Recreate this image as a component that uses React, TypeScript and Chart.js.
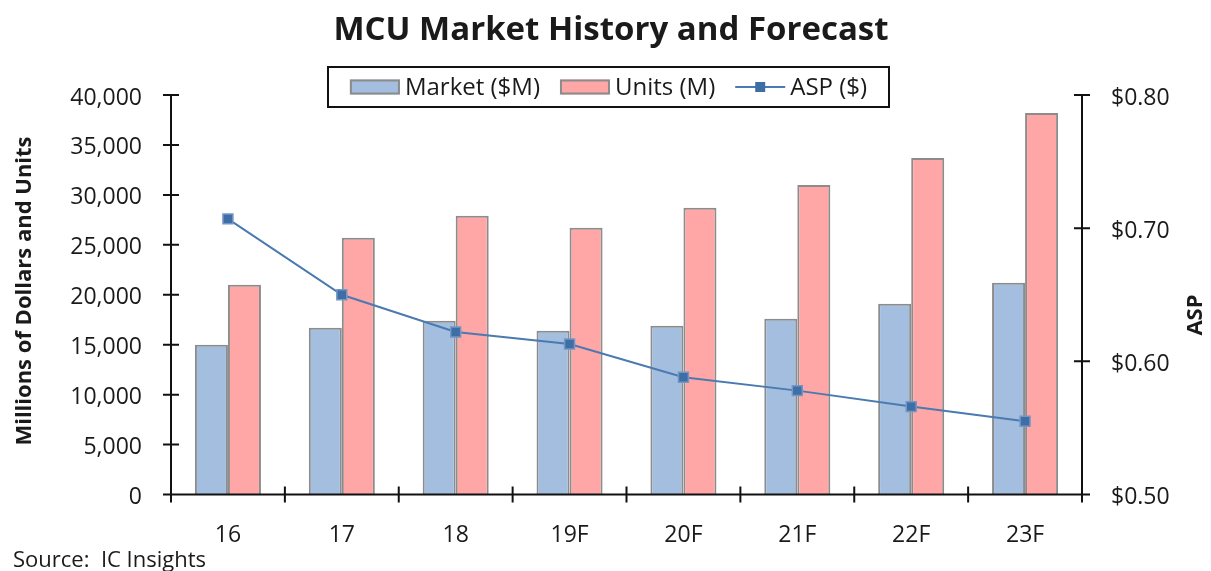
import React, { useEffect, useRef } from "react";
import { Chart, registerables } from "chart.js";

Chart.register(...registerables);

const categories = ["16", "17", "18", "19F", "20F", "21F", "22F", "23F"];
const marketValues = [15000, 16700, 17400, 16400, 16900, 17600, 19100, 21200];
const unitValues = [21000, 25700, 27900, 26700, 28700, 31000, 33700, 38200];
const aspValues = [0.707, 0.65, 0.622, 0.613, 0.588, 0.578, 0.566, 0.555];
const leftTickValues = [0, 5000, 10000, 15000, 20000, 25000, 30000, 35000, 40000];
const rightTickValues = [0.5, 0.6, 0.7, 0.8];

const TITLE = "MCU Market History and Forecast";
const LEFT_TITLE = "Millions of Dollars and Units";
const RIGHT_TITLE = "ASP";
const SOURCE = "Source:  IC Insights";
const LEGEND_LABELS = ["Market ($M)", "Units (M)", "ASP ($)"];

const FONT = "'Open Sans', 'Noto Sans', sans-serif";
const BLUE = "#a3bede";
const PINK = "#ffa6a6";
const BAR_BORDER = "#8c8c8c";
const LINE = "#4a7ab0";
const MARKER = "#3e6ea6";
const TEXT = "#1a1a1a";

const decorPlugin = {
  id: "decor",
  afterDraw(chart: any) {
    const ctx = chart.ctx as CanvasRenderingContext2D;
    const { left, right, top, bottom } = chart.chartArea;
    const yL = chart.scales.y;
    const yR = chart.scales.y2;
    ctx.save();
    ctx.strokeStyle = "#111";
    ctx.lineWidth = 2;
    ctx.beginPath();
    ctx.moveTo(left, top);
    ctx.lineTo(left, bottom);
    ctx.moveTo(right, top);
    ctx.lineTo(right, bottom);
    ctx.moveTo(left, bottom);
    ctx.lineTo(right, bottom);
    const t = 8;
    leftTickValues.forEach((v) => {
      const y = yL.getPixelForValue(v);
      ctx.moveTo(left - t, y);
      ctx.lineTo(left + t, y);
    });
    rightTickValues.forEach((v) => {
      const y = yR.getPixelForValue(v);
      ctx.moveTo(right - t, y);
      ctx.lineTo(right + t, y);
    });
    const n = categories.length;
    for (let i = 0; i <= n; i++) {
      const x = left + ((right - left) * i) / n;
      ctx.moveTo(x, bottom - t);
      ctx.lineTo(x, bottom + t);
    }
    ctx.stroke();

    // title
    ctx.fillStyle = TEXT;
    ctx.textBaseline = "middle";
    ctx.textAlign = "center";
    ctx.font = `bold 33px ${FONT}`;
    ctx.fillText(TITLE, 611, 31);

    // axis titles
    ctx.font = `bold 22px ${FONT}`;
    ctx.save();
    ctx.translate(25, 291);
    ctx.rotate(-Math.PI / 2);
    ctx.fillText(LEFT_TITLE, 0, 0);
    ctx.restore();
    ctx.save();
    ctx.translate(1196, 315);
    ctx.rotate(-Math.PI / 2);
    ctx.fillText(RIGHT_TITLE, 0, 0);
    ctx.restore();

    // source
    ctx.textAlign = "left";
    ctx.font = `22px ${FONT}`;
    ctx.fillText(SOURCE, 13, 561);

    // legend
    ctx.font = `24px ${FONT}`;
    const swW = 50;
    const swH = 15;
    const gapText = 5;
    const gapItem = 20;
    const widths = LEGEND_LABELS.map((l) => ctx.measureText(l).width);
    const total =
      widths.reduce((a, b) => a + b, 0) + LEGEND_LABELS.length * (swW + gapText) + gapItem * (LEGEND_LABELS.length - 1);
    const boxL = 328;
    const boxR = 889;
    const boxT = 67;
    const boxB = 107;
    const cy = (boxT + boxB) / 2;
    let x = (boxL + boxR) / 2 - total / 2;
    ctx.lineWidth = 2;
    ctx.strokeStyle = "#111";
    ctx.strokeRect(boxL, boxT, boxR - boxL, boxB - boxT);
    LEGEND_LABELS.forEach((label, i) => {
      if (i < 2) {
        ctx.fillStyle = i === 0 ? BLUE : PINK;
        ctx.fillRect(x, cy - swH / 2, swW, swH);
        ctx.strokeStyle = BAR_BORDER;
        ctx.lineWidth = 2;
        ctx.strokeRect(x + 1, cy - swH / 2 + 1, swW - 2, swH - 2);
      } else {
        ctx.strokeStyle = LINE;
        ctx.lineWidth = 2;
        ctx.beginPath();
        ctx.moveTo(x, cy);
        ctx.lineTo(x + swW, cy);
        ctx.stroke();
        ctx.fillStyle = MARKER;
        ctx.fillRect(x + swW / 2 - 5, cy - 5, 10, 10);
      }
      ctx.fillStyle = TEXT;
      ctx.fillText(label, x + swW + gapText, cy + 1);
      x += swW + gapText + widths[i] + gapItem;
    });
    ctx.restore();
  },
};

export default function App() {
  const ref = useRef<HTMLCanvasElement>(null);
  useEffect(() => {
    document.body.style.margin = "0";
    const canvas = ref.current!;
    const chart = new Chart(canvas, {
      type: "bar",
      data: {
        labels: categories,
        datasets: [
          {
            type: "line",
            label: LEGEND_LABELS[2],
            data: aspValues,
            yAxisID: "y2",
            borderColor: LINE,
            borderWidth: 2,
            pointStyle: "rect",
            pointRadius: 7,
            pointBackgroundColor: MARKER,
            pointBorderColor: "#7396c4",
            pointBorderWidth: 1.5,
            tension: 0,
            order: -1,
          } as any,
          {
            label: LEGEND_LABELS[0],
            data: marketValues,
            yAxisID: "y",
            backgroundColor: BLUE,
            borderColor: BAR_BORDER,
            borderWidth: 2,
            categoryPercentage: 0.58,
            barPercentage: 1,
            order: 1,
          },
          {
            label: LEGEND_LABELS[1],
            data: unitValues,
            yAxisID: "y",
            backgroundColor: PINK,
            borderColor: BAR_BORDER,
            borderWidth: 2,
            categoryPercentage: 0.58,
            barPercentage: 1,
            order: 1,
          },
        ],
      },
      options: {
        responsive: false,
        animation: false,
        layout: { padding: { top: 95, left: 0, right: 0, bottom: 0 } },
        plugins: { legend: { display: false }, tooltip: { enabled: false }, title: { display: false } },
        scales: {
          x: {
            grid: { display: false },
            border: { display: false },
            ticks: { color: TEXT, font: { family: FONT, size: 23 }, padding: 19, maxRotation: 0 },
            afterFit: (s: any) => {
              s.height = 76.5;
            },
          },
          y: {
            position: "left",
            min: 0,
            max: 40000,
            grid: { display: false },
            border: { display: false },
            afterBuildTicks: (s: any) => {
              s.ticks = leftTickValues.map((v) => ({ value: v }));
            },
            ticks: {
              color: TEXT,
              font: { family: FONT, size: 23 },
              padding: 21,
              labelOffset: 3,
              callback: (v: any) => Number(v).toLocaleString("en-US"),
            },
            afterFit: (s: any) => {
              s.width = 171;
            },
          },
          y2: {
            position: "right",
            min: 0.5,
            max: 0.8,
            grid: { display: false },
            border: { display: false },
            afterBuildTicks: (s: any) => {
              s.ticks = rightTickValues.map((v) => ({ value: v }));
            },
            ticks: {
              color: TEXT,
              font: { family: FONT, size: 23 },
              padding: 21,
              labelOffset: 3,
              callback: (v: any) => "$" + Number(v).toFixed(2),
            },
            afterFit: (s: any) => {
              s.width = 129;
            },
          },
        },
      },
      plugins: [decorPlugin],
    });
    return () => chart.destroy();
  }, []);
  return (
    <div style={{ position: "absolute", left: 0, top: 0, width: 1211, height: 571, background: "#fff" }}>
      <canvas ref={ref} width={1211} height={571} style={{ display: "block" }} />
    </div>
  );
}
